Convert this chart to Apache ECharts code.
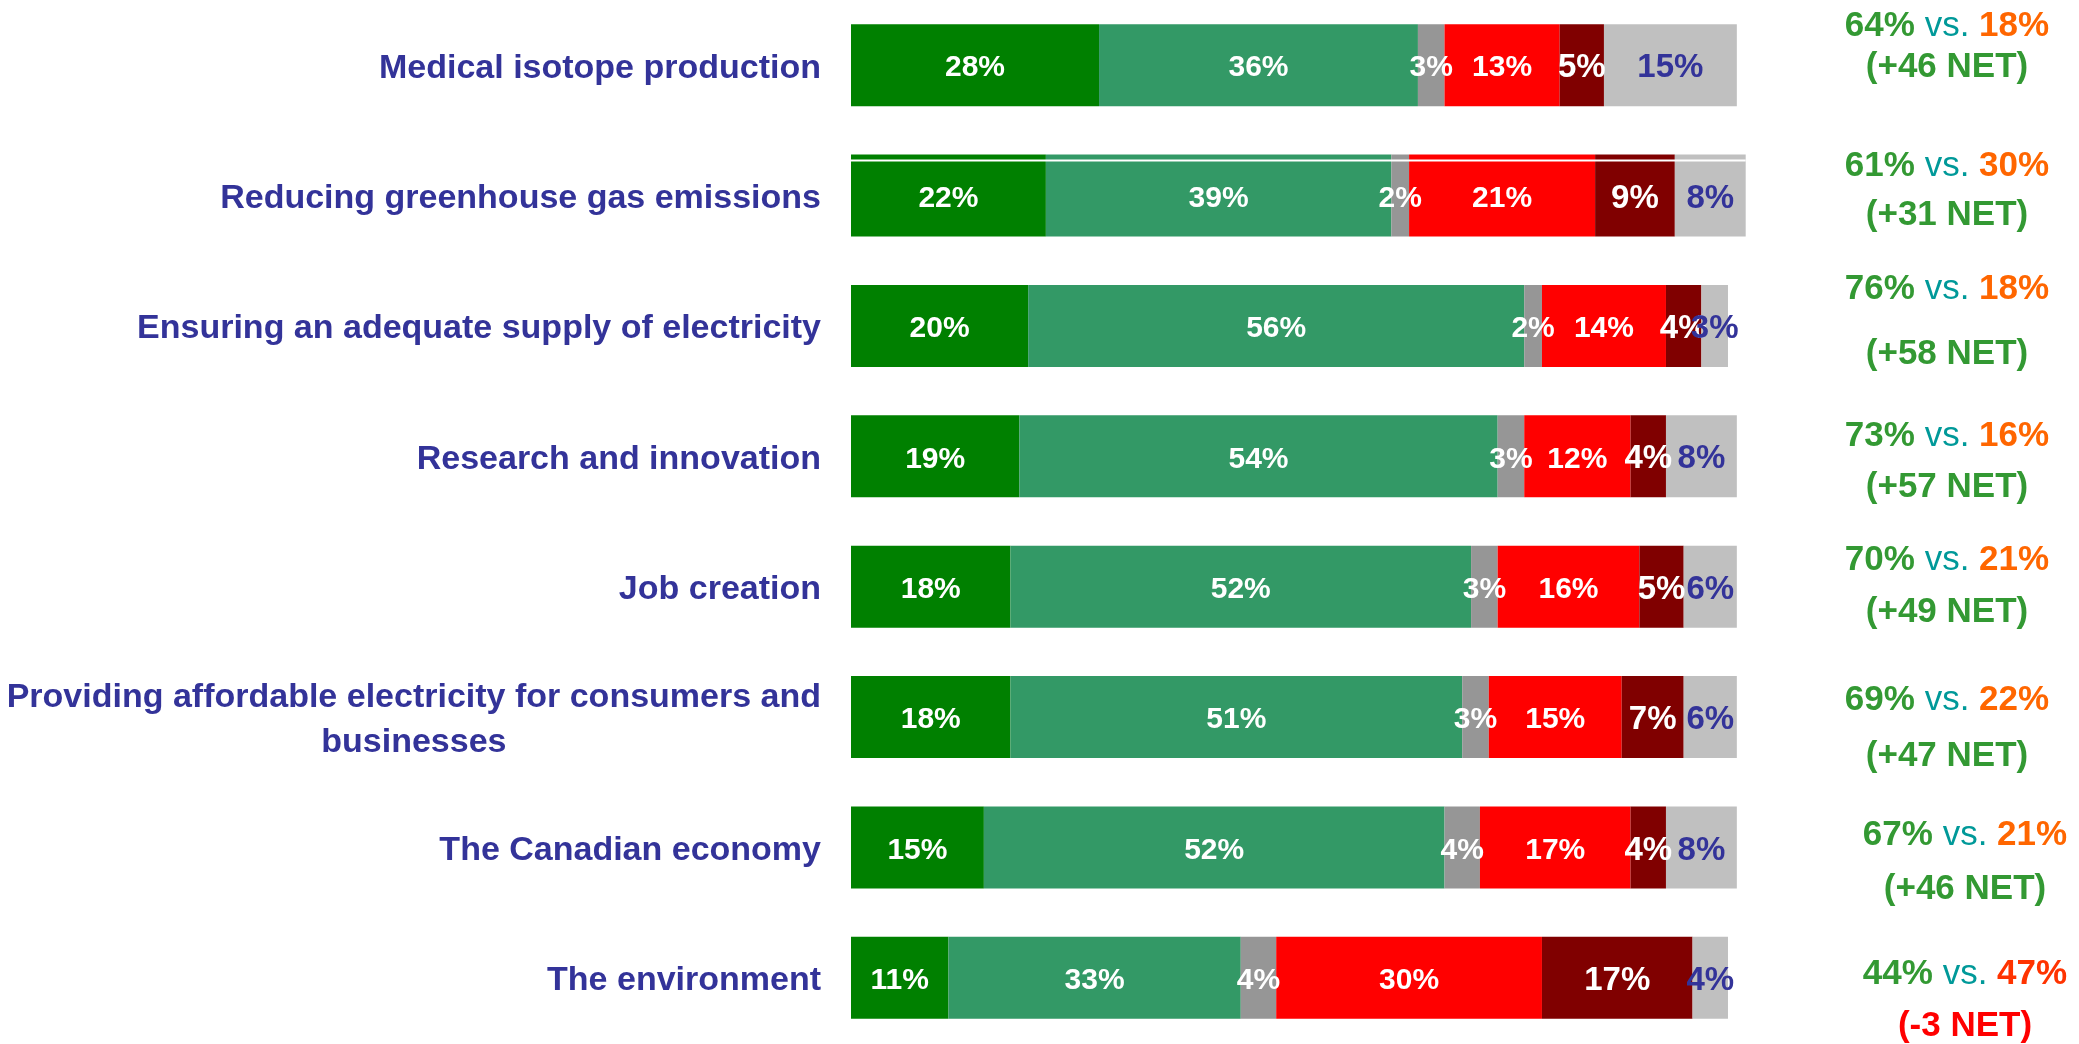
<!DOCTYPE html>
<html><head><meta charset="utf-8">
<script src="https://cdn.jsdelivr.net/npm/echarts@6/dist/echarts.min.js"></script>
<style>html,body{margin:0;padding:0;background:#fff}#c{width:2079px;height:1044px}</style>
</head><body><div id="c"></div>
<script>
// ---- data ----
const categories = [
  'Medical isotope production',
  'Reducing greenhouse gas emissions',
  'Ensuring an adequate supply of electricity',
  'Research and innovation',
  'Job creation',
  'Providing affordable electricity for consumers and\nbusinesses',
  'The Canadian economy',
  'The environment'
];
const seriesNames = ['Very positive', 'Somewhat positive', 'Neither', 'Somewhat negative', 'Very negative', "Don't know"];
const veryPositive     = [28, 22, 20, 19, 18, 18, 15, 11];
const somewhatPositive = [36, 39, 56, 54, 52, 51, 52, 33];
const neither          = [3, 2, 2, 3, 3, 3, 4, 4];
const somewhatNegative = [13, 21, 14, 12, 16, 15, 17, 30];
const veryNegative     = [5, 9, 4, 4, 5, 7, 4, 17];
const dontKnow         = [15, 8, 3, 8, 6, 6, 8, 4];

// ---- layout / style (not data) ----
const colors = ['#008000', '#339966', '#969696', '#FF0000', '#800000', '#C0C0C0'];
const labelColors = ['#fff', '#fff', '#fff', '#fff', '#fff', '#333399'];
const labelSizes = [30, 30, 30, 30, 33, 33];
const line1Offset = [-39, -29, -37, -20, -26, -17, -12, -3];
const line2Offset = [2, 20, 28, 31, 26, 39, 42, 49];
const textCenterX = [1947, 1947, 1947, 1947, 1947, 1947, 1965, 1965];
const FONT = '"Liberation Sans", Arial, Helvetica, sans-serif';

const allSeries = [veryPositive, somewhatPositive, neither, somewhatNegative, veryNegative, dontKnow];

const chart = echarts.init(document.getElementById('c'));
chart.setOption({
  animation: false,
  backgroundColor: '#fff',
  grid: { left: 851, right: 165, top: 0, height: 1043, containLabel: false, outerBoundsMode: 'none' },
  xAxis: { type: 'value', min: 0, max: 120, show: false },
  yAxis: {
    type: 'category', data: categories, inverse: true,
    axisLine: { show: false }, axisTick: { show: false }, splitLine: { show: false },
    axisLabel: {
      margin: 30, align: 'right', padding: [6, 0, 0, 0],
      color: '#333399', fontSize: 34, fontWeight: 'bold', fontFamily: FONT, lineHeight: 45,
      formatter: v => v.indexOf('\n') >= 0 ? v.split('\n').map(l => '{c|' + l + '}').join('\n') : v,
      rich: { c: { align: 'center', color: '#333399', fontSize: 34, fontWeight: 'bold', fontFamily: FONT, lineHeight: 45 } }
    }
  },
  series: allSeries.map((d, k) => ({
    name: seriesNames[k], type: 'bar', stack: 'all', data: d, barWidth: 82,
    itemStyle: { color: colors[k] },
    label: {
      show: true, position: 'inside', formatter: p => p.value + '%', offset: [0, 3],
      color: labelColors[k], fontSize: labelSizes[k], fontWeight: 'bold', fontFamily: FONT
    },
    emphasis: { disabled: true }
  }))
});

// right-hand summary text, derived from the data
const good = categories.map((_, i) => veryPositive[i] + somewhatPositive[i]);
const bad = categories.map((_, i) => somewhatNegative[i] + veryNegative[i]);
const totals = categories.map((_, i) => allSeries.reduce((s, a) => s + a[i], 0));
const graphics = [];
categories.forEach((c, i) => {
  const cy = chart.convertToPixel({ yAxisIndex: 0 }, c);
  const net = good[i] - bad[i];
  const badColor = net < 0 ? '#FF3300' : '#FF6600';
  graphics.push({
    type: 'text', x: textCenterX[i], y: cy + line1Offset[i], silent: true,
    style: {
      text: '{g|' + good[i] + '%} {v|vs.} {o|' + bad[i] + '%}',
      align: 'center', verticalAlign: 'middle',
      rich: {
        g: { fill: '#339933', fontSize: 35, fontWeight: 'bold', fontFamily: FONT },
        v: { fill: '#009999', fontSize: 35, fontFamily: FONT },
        o: { fill: badColor, fontSize: 35, fontWeight: 'bold', fontFamily: FONT }
      },
      fontSize: 35, fontFamily: FONT
    }
  });
  graphics.push({
    type: 'text', x: textCenterX[i], y: cy + line2Offset[i], silent: true,
    style: {
      text: '(' + (net >= 0 ? '+' : '') + net + ' NET)',
      fill: net < 0 ? '#FF0000' : '#339933',
      fontSize: 35, fontWeight: 'bold', fontFamily: FONT,
      align: 'center', verticalAlign: 'middle'
    }
  });
});
// thin white rule near the top of the second bar (as in the original)
{
  const cy = chart.convertToPixel({ yAxisIndex: 0 }, categories[1]);
  const x0 = chart.convertToPixel({ xAxisIndex: 0 }, 0);
  const x1 = chart.convertToPixel({ xAxisIndex: 0 }, totals[1]);
  graphics.push({ type: 'line', silent: true, z: 100,
    shape: { x1: x0, y1: cy - 35, x2: x1, y2: cy - 35 },
    style: { stroke: '#ffffff', lineWidth: 2 } });
}
chart.setOption({ graphic: graphics });
</script>
</body></html>
